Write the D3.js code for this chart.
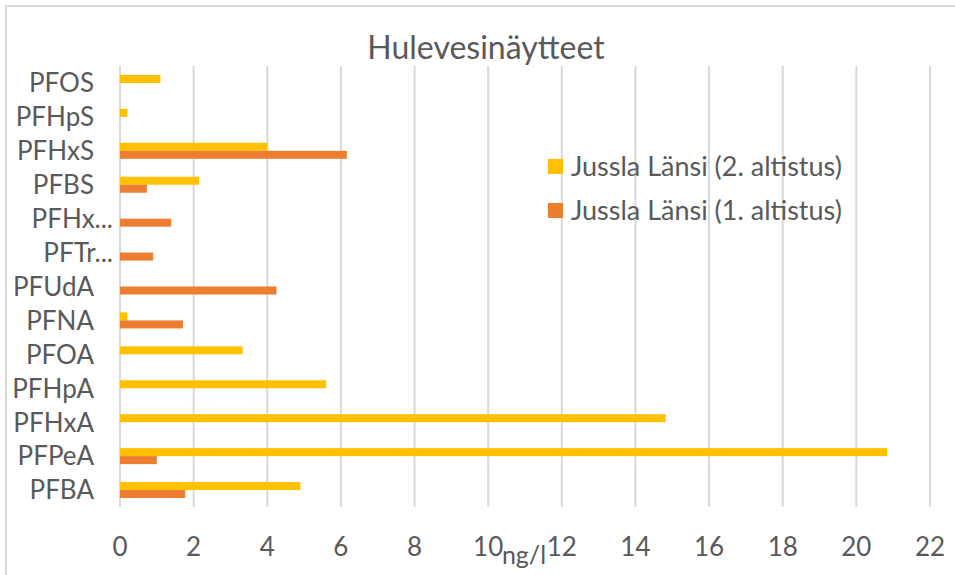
<!DOCTYPE html>
<html>
<head>
<meta charset="utf-8">
<script src="https://cdn.jsdelivr.net/npm/d3@7"></script>
<style>
  body { margin: 0; background: #fff; }
  text { font-family: Lato, "Open Sans", sans-serif; fill: #595959; }
</style>
</head>
<body>
<script>
var width = 955,
    height = 575;

// categories top to bottom
var categories = ["PFOS", "PFHpS", "PFHxS", "PFBS", "PFHx...", "PFTr...", "PFUdA", "PFNA", "PFOA", "PFHpA", "PFHxA", "PFPeA", "PFBA"];
var series = ["Jussla Länsi (2. altistus)", "Jussla Länsi (1. altistus)"];
var altistus2 = [1.1, 0.2, 4.0, 2.15, null, null, null, 0.2, 3.33, 5.6, 14.82, 20.84, 4.9];
var altistus1 = [null, null, 6.16, 0.73, 1.39, 0.9, 4.25, 1.71, null, null, null, 1.0, 1.77];
var xTicks = [0, 2, 4, 6, 8, 10, 12, 14, 16, 18, 20, 22];
var colors = ["#FFC000", "#ED7D31"];

var svg = d3.select("body").append("svg")
    .attr("width", width)
    .attr("height", height);

// chart area border
svg.append("rect")
    .attr("x", 6)
    .attr("y", 6)
    .attr("width", 1000)
    .attr("height", 1000)
    .style("fill", "none")
    .style("stroke", "#D9D9D9")
    .style("stroke-width", 2);

var x = d3.scaleLinear()
    .domain([0, 22])
    .range([120, 930]);

var y = d3.scaleBand()
    .domain(categories)
    .range([66, 507]);

var inner = d3.scaleBand()
    .domain([0, 1])
    .range([0, 16]);

// gridlines
svg.append("g")
    .selectAll("line")
    .data(xTicks)
  .enter().append("line")
    .attr("x1", function(d) { return x(d); })
    .attr("x2", function(d) { return x(d); })
    .attr("y1", 66)
    .attr("y2", 507)
    .style("stroke", "#D9D9D9")
    .style("stroke-width", 2);

// bars
var rows = categories.map(function(c, i) {
  return { cat: c, vals: [altistus2[i], altistus1[i]] };
});

var groups = svg.append("g")
    .selectAll("g")
    .data(rows)
  .enter().append("g")
    .attr("transform", function(d) {
      return "translate(0," + (y(d.cat) + y.bandwidth() / 2 - 8) + ")";
    });

groups.selectAll("rect")
    .data(function(d) {
      return d.vals.map(function(v, j) { return { v: v, j: j }; })
        .filter(function(e) { return e.v != null; });
    })
  .enter().append("rect")
    .attr("x", x(0))
    .attr("y", function(d) { return inner(d.j); })
    .attr("width", function(d) { return x(d.v) - x(0); })
    .attr("height", inner.bandwidth())
    .style("fill", function(d) { return colors[d.j]; });

// category labels
svg.append("g")
    .selectAll("text")
    .data(categories)
  .enter().append("text")
    .attr("x", function(d) { return d.indexOf("...") > 0 ? x(0) - 7 : x(0) - 26; })
    .attr("y", function(d) { return y(d) + y.bandwidth() / 2; })
    .attr("dy", "0.36em")
    .attr("text-anchor", "end")
    .style("font-size", "26px")
    .text(function(d) { return d; });

// x tick labels
svg.append("g")
    .selectAll("text")
    .data(xTicks)
  .enter().append("text")
    .attr("x", function(d) { return x(d); })
    .attr("y", 556)
    .attr("text-anchor", "middle")
    .style("font-size", "26px")
    .text(function(d) { return d; });

// axis title
svg.append("text")
    .attr("x", 524)
    .attr("y", 564)
    .attr("text-anchor", "middle")
    .style("font-size", "25px")
    .text("ng/l");

// title
svg.append("text")
    .attr("x", 486)
    .attr("y", 59)
    .attr("text-anchor", "middle")
    .style("font-size", "32px")
    .text("Hulevesinäytteet");

// legend
var legend = svg.selectAll(".legend")
    .data(series)
  .enter().append("g")
    .attr("class", "legend")
    .attr("transform", function(d, i) {
      return "translate(548," + (159 + 44 * i) + ")";
    });

legend.append("rect")
    .attr("width", 15)
    .attr("height", 15)
    .style("fill", function(d, i) { return colors[i]; });

legend.append("text")
    .attr("x", 23)
    .attr("y", 7.5)
    .attr("dy", "0.36em")
    .style("font-size", "27px")
    .text(function(d) { return d; });
</script>
</body>
</html>
